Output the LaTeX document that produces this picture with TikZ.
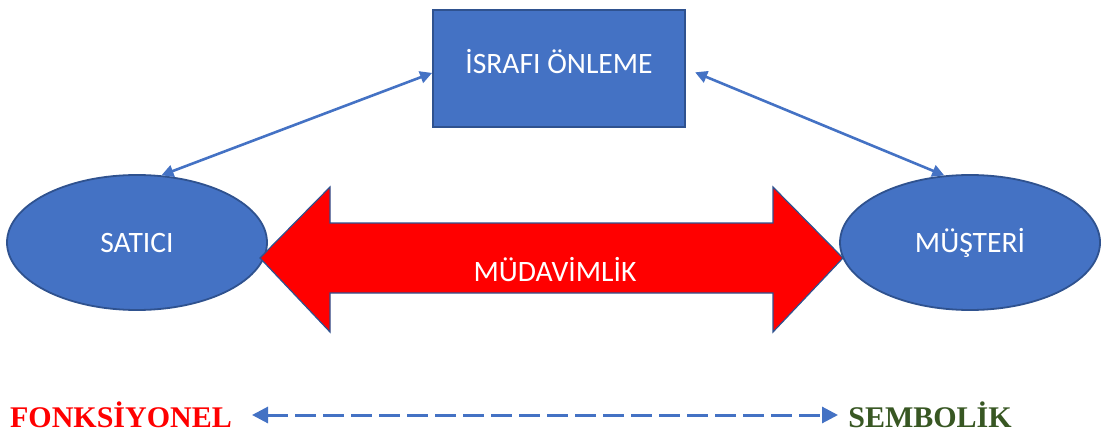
\documentclass[tikz,border=0pt]{standalone}
\usepackage{fontspec}
\setmainfont{Liberation Serif}
\newfontfamily\calfont{Carlito}
\usetikzlibrary{calc,arrows.meta,shapes.geometric}
\definecolor{boxblue}{HTML}{4472C4}
\definecolor{edgeblue}{HTML}{2F528F}
\definecolor{darkgreen}{HTML}{385723}

\begin{document}
\begin{tikzpicture}[x=0.5pt,y=-0.5pt,
    blueshape/.style={fill=boxblue,draw=edgeblue,line width=0.9pt,text=white,font=\calfont\fontsize{14.8}{17}\selectfont},
    whitetext/.style={text=white,font=\calfont\fontsize{14.8}{17}\selectfont},
    endtext/.style={anchor=base,inner sep=0pt,font=\bfseries\fontsize{15}{17}\selectfont},
    link/.style={boxblue,line width=1.3pt,{Triangle[width=6pt,length=6pt]}-{Triangle[width=6pt,length=6pt]}}]
    \useasboundingbox (0,0) rectangle (1101,433); % keeps the margins

    \node[blueshape,rectangle,minimum width=126pt,minimum height=58.5pt] (isr) at (559,68.5) {};
    \node[whitetext] (isrtext) at (559,62) {İSRAFI ÖNLEME};
    \node[blueshape,ellipse,minimum width=130pt,minimum height=67.5pt] (satici) at (137,242.5) {SATICI};
    \node[blueshape,ellipse,minimum width=130pt,minimum height=67.5pt] (musteri) at (970,242.5) {MÜŞTERİ};

    \coordinate (ltip) at (260,258);
    \coordinate (rtip) at (843,258);
    \draw[fill=red,draw=edgeblue,line width=0.6pt] (ltip) -- (330,187) -- (330,223) -- (773,223) -- (773,187)
        -- (rtip) -- (773,332) -- (773,293) -- (330,293) -- (330,332) -- cycle;
    \node[whitetext] (mud) at (555,270) {MÜDAVİMLİK};

    \draw[link] (satici.70) -- (isr.182);
    \draw[link,shorten <=5pt] (isr.east) -- (musteri.111);

    \node[endtext,text=red] (fonk) at (121,427) {FONKSİYONEL};
    \node[endtext,text=darkgreen] (semb) at (930,427) {SEMBOLİK};
    \coordinate (fl) at (252,415);
    \coordinate (sr) at (838,415);
    \draw[boxblue,line width=1.5pt,dash pattern=on 10.5pt off 3.5pt,
        {Triangle[width=8pt,length=8pt]}-{Triangle[width=8pt,length=8pt]}] (fl) -- (sr);
\end{tikzpicture}
\end{document}
